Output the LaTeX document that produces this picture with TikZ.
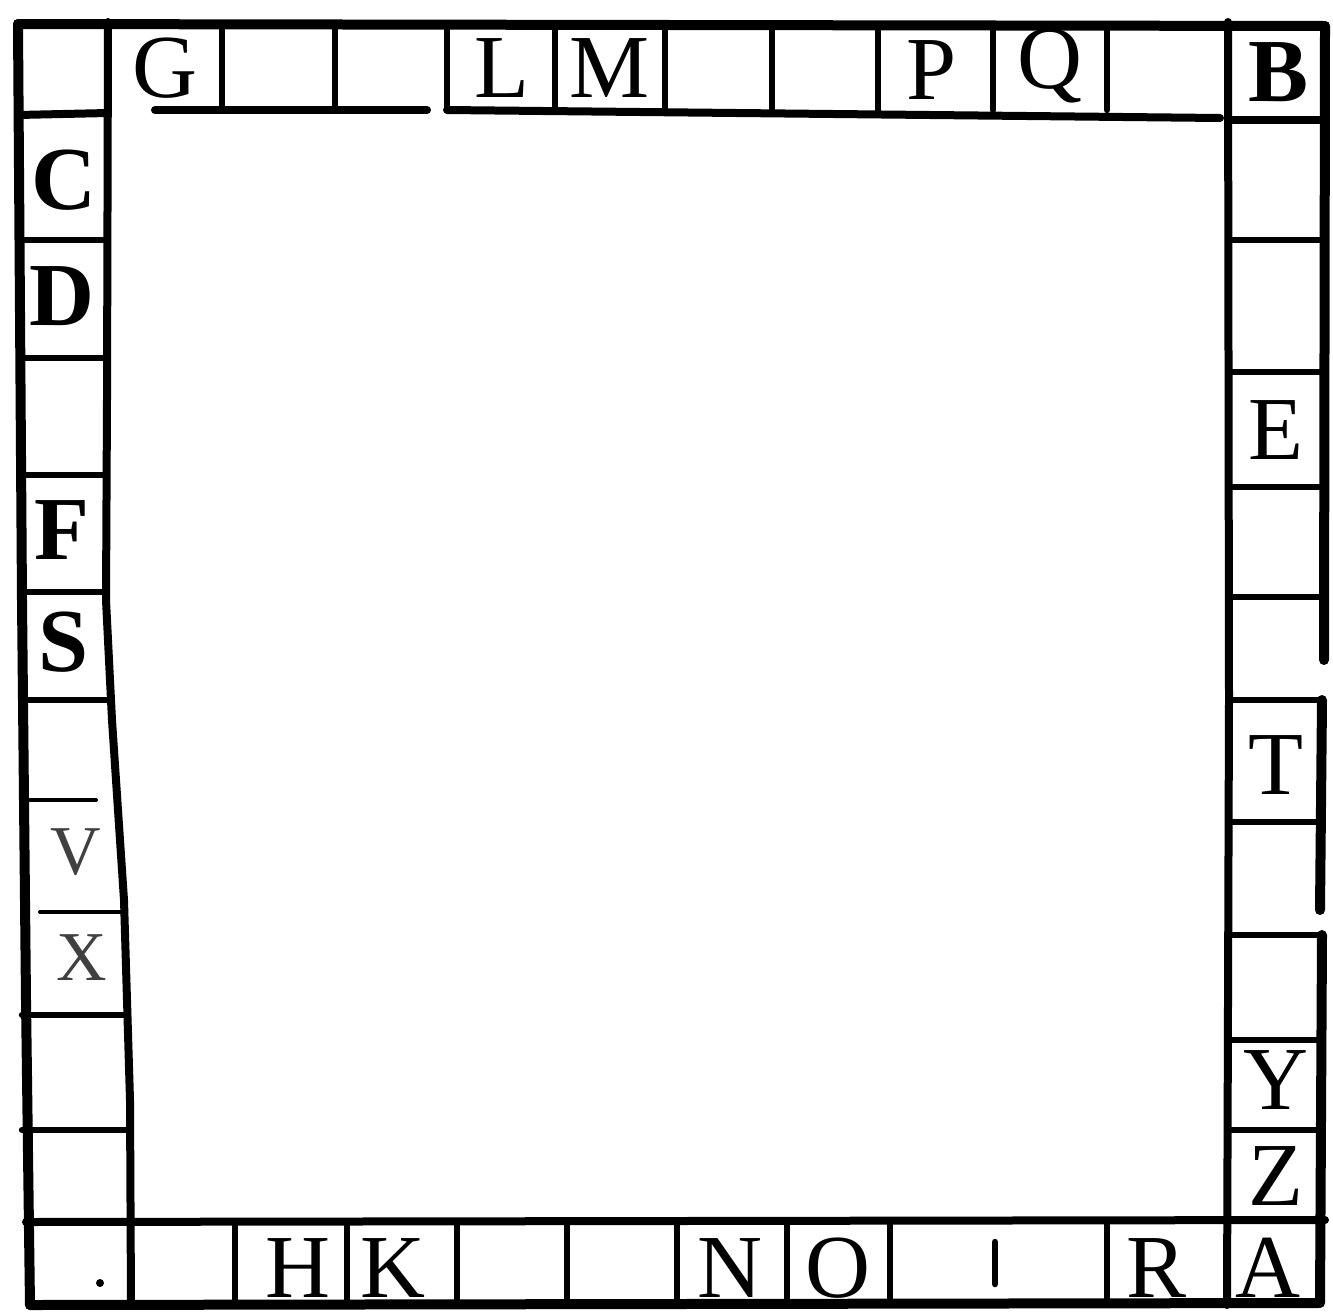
\documentclass[tikz,border=0pt]{standalone}
\usepackage{fontspec}
\setmainfont{Liberation Serif}
\begin{document}
\begin{tikzpicture}[x=1pt,y=-1pt,
  frame/.style={line width=10pt,line cap=round,line join=round},
  inner/.style={line width=8pt,line cap=round,line join=round},
  rule/.style={line width=6.5pt,line cap=round},
  faint/.style={line width=4pt,line cap=round},
  lett/.style={font=\fontsize{90}{90}\selectfont,inner sep=0pt},
  heavy/.style={font=\fontsize{90}{90}\selectfont\bfseries,inner sep=0pt},
  light/.style={font=\fontsize{70}{70}\selectfont,inner sep=0pt,text=black!75}]
\useasboundingbox[fill=white] (0,0) rectangle (1333,1315);
% outer frame
\draw[frame] (18,24) -- (1325,26);
\draw[frame] (18,24) -- (22,600) -- (26,1000) -- (30,1305);
\draw[frame] (30,1305) -- (1318,1303);
\draw[frame] (1325,26) -- (1324,660);
\draw[frame] (1322,700) -- (1320,910);
\draw[frame] (1322,935) -- (1320,1303);
% inner frame
\draw[inner] (108,22) -- (107,400) -- (106,600) -- (112,720) -- (124,900) -- (130,1100) -- (131,1305);
\draw[inner] (1228,22) -- (1229,700) -- (1227,1305);
\draw[inner] (18,115) -- (108,113);
\draw[inner] (155,110) -- (427,110);
\draw[inner] (447,110) -- (1220,118);
\draw[inner] (1232,120) -- (1325,120);
\draw[inner] (26,1222) -- (1325,1220);
% top row dividers
\foreach \x in {222,335,447,555,665,772,878,993,1107}
  \draw[rule] (\x,26) -- (\x,110);
% left column dividers
\foreach \y/\r in {240/107,358/107,475/106,592/106,700/111,1015/128,1130/130}
  \draw[rule] (22,\y) -- (\r,\y);
\draw[faint] (30,800) -- (96,800);
\draw[faint] (40,912) -- (122,912);
% right column dividers
\foreach \y in {240,372,487,597,700,822,935,1040,1130}
  \draw[rule] (1229,\y) -- (1322,\y);
% bottom row dividers
\foreach \x in {235,347,457,567,677,787,890,1107}
  \draw[rule] (\x,1222) -- (\x,1304);
\draw[rule] (995,1242) -- (995,1284);
% small dot in lower-left corner cell
\fill (100,1283) circle (4);
% letters
\node[lett] (G) at (165,68) {G};
\node[lett] (L) at (502,68) {L};
\node[lett] (M) at (610,68) {M};
\node[lett] (P) at (932,70) {P};
\node[lett] (Q) at (1050,66) {Q};
\node[heavy] (B) at (1278,72) {B};
\node[heavy] (C) at (64,180) {C};
\node[heavy] (D) at (62,296) {D};
\node[heavy] (F) at (62,530) {F};
\node[heavy] (S) at (64,642) {S};
\node[light] (V) at (76,852) {V};
\node[light] (X) at (82,958) {X};
\node[lett] (E) at (1276,430) {E};
\node[lett] (T) at (1276,765) {T};
\node[lett] (Y) at (1276,1080) {Y};
\node[lett] (Z) at (1276,1176) {Z};
\node[lett] (A) at (1268,1268) {A};
\node[lett] (H) at (298,1268) {H};
\node[lett] (K) at (393,1268) {K};
\node[lett] (N) at (730,1268) {N};
\node[lett] (O) at (838,1268) {O};
\node[lett] (R) at (1157,1268) {R};
\end{tikzpicture}
\end{document}
